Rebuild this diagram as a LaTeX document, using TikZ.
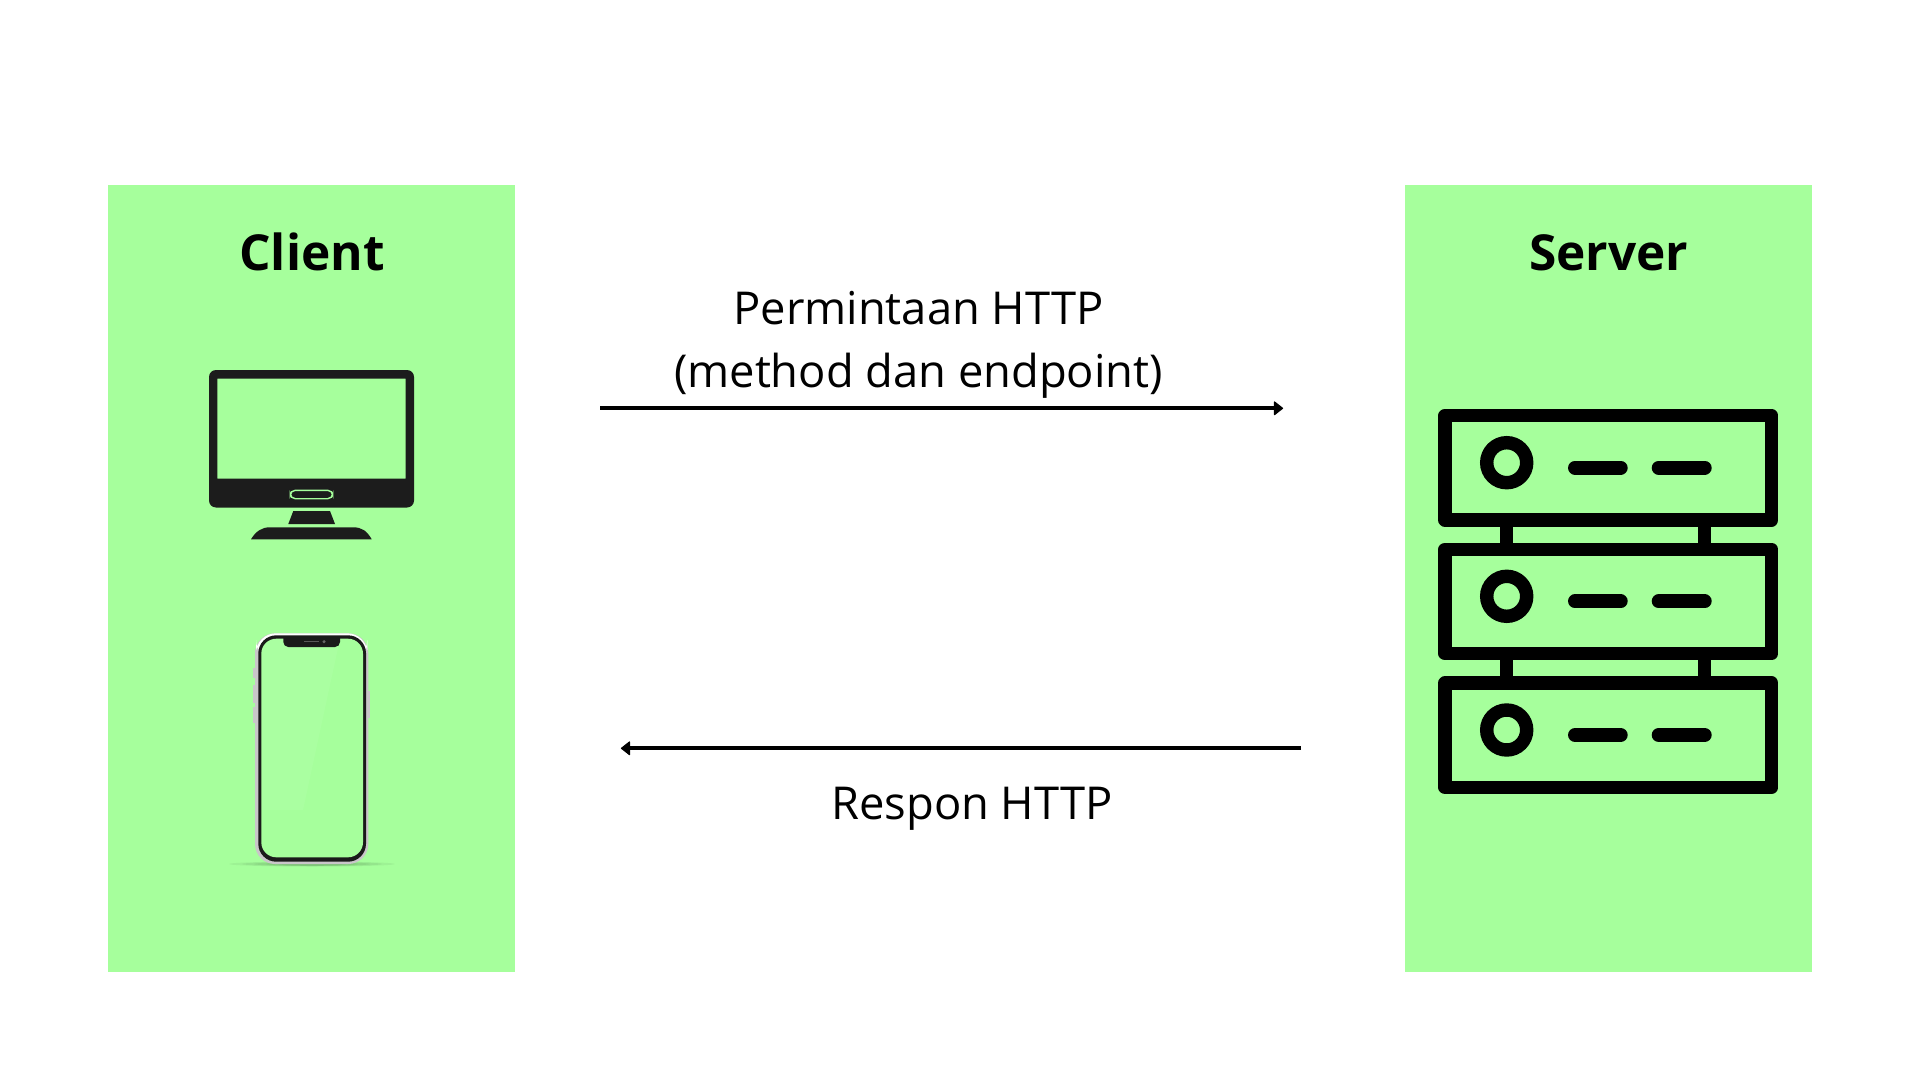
\documentclass[tikz,border=0pt]{standalone}
\usepackage{fontspec}
\setmainfont{Open Sans}
\definecolor{panelgreen}{HTML}{A6FF9C}
\definecolor{monitordark}{HTML}{1C1C1C}
\definecolor{phonedark}{HTML}{1A1A1A}
\definecolor{phonesilver}{HTML}{C9C6C9}
\tikzset{
  x=0.5pt,y=-0.5pt,
  panel/.style={fill=panelgreen,draw=none},
  title/.style={font=\fontsize{24.8}{30}\selectfont\bfseries,anchor=base,inner sep=0pt},
  label/.style={font=\fontsize{22.65}{31}\selectfont,anchor=base,inner sep=0pt},
  flow/.style={line width=2.1pt,black},
  tiphead/.style={fill=black,draw=black,line width=0.6pt,line join=round},
  rack/.style={draw=black,line width=6.7pt,line join=round,fill=none},
  rackled/.style={draw=black,line width=6.7pt,fill=none},
  rackdash/.style={draw=black,line width=7pt,line cap=round},
  racklink/.style={draw=black,line width=6.7pt},
}
\begin{document}
\begin{tikzpicture}
\useasboundingbox (0,0) rectangle (1920,1080);
\fill[white] (0,0) rectangle (1920,1080);
% panels
\path[panel] (108,184.7) rectangle (515,972);
\path[panel] (1405,184.7) rectangle (1812,972);
% titles
\node[title] (client) at (312,271) {Client};
\node[title] (server) at (1608.7,271) {Server};
% monitor
\fill[monitordark,even odd rule]
  [rounded corners=3.5pt] (209,370) rectangle (414,507.5)
  [sharp corners] (217.3,378.7) rectangle (405.7,478.7);
\draw[panelgreen,line width=0.7pt,rounded corners=2.5pt,fill=monitordark] (290.3,490.3) rectangle (332.7,498.7);
\fill[monitordark] (293.3,511) -- (330,511) -- (335,524) -- (288.3,524) -- cycle;
\fill[monitordark] (251,539.3) .. controls (256,531) and (262,527.3) .. (270,527.3) -- (353,527.3) .. controls (362,527.3) and (367,531) .. (371.7,539.3) -- cycle;
% phone shadow
\foreach \w/\h in {83/2.5,70/2.2,58/2,46/1.8,34/1.6}
  \fill[black,opacity=0.05] (312,864) ellipse [x radius=\w,y radius=\h];
% phone side buttons
\fill[phonesilver] (253.3,685) rectangle (256,702.7);
\fill[phonesilver] (253.3,706.7) rectangle (256,723.3);
\fill[phonesilver] (253.3,667.7) rectangle (256,678);
\fill[phonesilver] (367,690.7) rectangle (370,717.7);
% phone body
\fill[phonesilver,rounded corners=10pt] (255,633.3) rectangle (368.3,864);
\fill[white,rounded corners=10pt] (256,633.3) rectangle (367.3,660);
\fill[phonesilver] (255,650) rectangle (368.3,664);
\fill[phonedark,rounded corners=9pt] (258.3,635.3) rectangle (366,861.7);
\fill[panelgreen,rounded corners=7.5pt] (261.3,638.7) rectangle (363,857.3);
\begin{scope}
  \clip[rounded corners=7.5pt] (261.3,638.7) rectangle (363,857.3);
  \fill[white,opacity=0.05] (261.3,638.7) -- (340,638.7) -- (303,810) -- (261.3,810) -- cycle;
\end{scope}
% notch
\fill[phonedark,rounded corners=2.5pt] (283.3,636) -- (283.3,647) -- (340,647) -- (340,636);
\draw[gray!70!black,line width=0.3pt] (304.3,641.7) -- (319.3,641.7);
\fill[gray!80!black] (324,641.7) circle [radius=1.7];
% server rack
\foreach \yy/\ty in {0/415.7,133.6/549.3,267.3/683}{
  \draw[rack] (1445,\ty) rectangle (1771.6,\ty+104.3);
  \draw[rackled] (1506.7,462.7+\yy) circle [radius=20];
  \draw[rackdash] (1575,467.7+\yy) -- (1620.7,467.7+\yy);
  \draw[rackdash] (1658.7,467.7+\yy) -- (1704.7,467.7+\yy);
}
\foreach \ty in {520,653.6}{
  \draw[racklink] (1506.7,\ty) -- (1506.7,\ty+29.3);
  \draw[racklink] (1704.7,\ty) -- (1704.7,\ty+29.3);
}
% labels
\node[label] (req1) at (918.5,325) {Permintaan HTTP};
\node[label] (req2) at (918.5,387) {(method dan endpoint)};
\node[label] (resp) at (972,819) {Respon HTTP};
% arrows
\coordinate (reqstart) at (600,408.3);
\coordinate (reqend) at (1276,408.3);
\coordinate (respstart) at (1301,748.3);
\coordinate (respend) at (628,748.3);
\draw[flow] (reqstart) -- (reqend);
\filldraw[tiphead] (1274.5,402) -- (1282.5,408.3) -- (1274.5,414.6) -- cycle;
\draw[flow] (respstart) -- (respend);
\filldraw[tiphead] (629.5,742) -- (621.5,748.3) -- (629.5,754.6) -- cycle;
\end{tikzpicture}
\end{document}
